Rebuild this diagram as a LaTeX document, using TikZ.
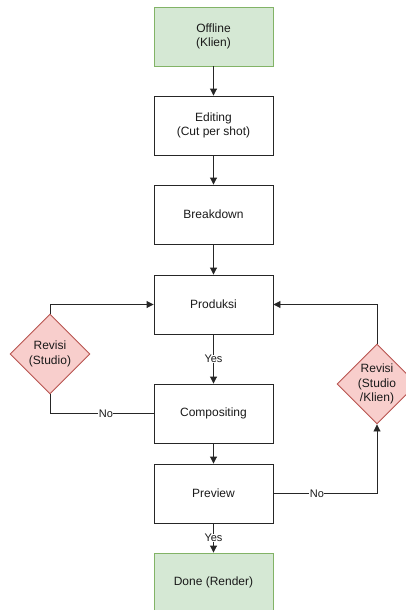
\documentclass[tikz,border=0pt]{standalone}
\usepackage{fontspec}
\setmainfont{Liberation Sans}
\usetikzlibrary{shapes.geometric,arrows.meta}
\definecolor{gfill}{HTML}{D5E8D4}
\definecolor{gline}{HTML}{82B366}
\definecolor{rfill}{HTML}{F8CECC}
\definecolor{rline}{HTML}{B85450}
\definecolor{txt}{HTML}{1A1A1A}
\tikzset{
  box/.style={rectangle, draw=black!85, line width=0.9pt, fill=white, minimum width=119pt, minimum height=59pt, inner sep=0pt, align=center, text=txt, font=\fontsize{12}{14.5}\selectfont},
  gbox/.style={box, draw=gline, fill=gfill},
  dia/.style={diamond, draw=rline, fill=rfill, line width=0.9pt, minimum width=80pt, minimum height=80pt, inner sep=0pt},
  dtext/.style={align=center, text=txt, font=\fontsize{12}{14.5}\selectfont},
  conn/.style={draw=black!85, line width=0.9pt, -{Triangle[length=7pt,width=7pt]}},
  lbl/.style={fill=white, inner sep=0.5pt, text=txt, font=\fontsize{11}{12}\selectfont}
}
\begin{document}
\begin{tikzpicture}[x=1pt, y=-1pt]
\useasboundingbox (0,0) rectangle (406,610);
\node[gbox] (off) at (213.5,36.5) {Offline\\(Klien)};
\node[box] (edit) at (213.5,125.5) {Editing\\(Cut per shot)};
\node[box] (brk) at (213.5,214.5) {Breakdown};
\node[box] (prod) at (213.5,304.5) {Produksi};
\node[box] (comp) at (213.5,413.5) {Compositing};
\node[box] (prev) at (213.5,493.5) {Preview};
\node[gbox] (done) at (213.5,582.5) {Done (Render)};
\node[dia] (r1) at (50,354) {};
\node[dtext] (r1t) at (r1) {Revisi\\(Studio)};
\node[dia] (r2) at (377,384) {};
\node[dtext] (r2t) at (r2) {Revisi\\(Studio\\/Klien)};
\draw[conn] (off) -- (edit);
\draw[conn] (edit) -- (brk);
\draw[conn] (brk) -- (prod);
\draw[conn] (prod) -- node[lbl] {Yes} (comp);
\draw[conn] (comp) -- (prev);
\draw[conn] (prev) -- node[lbl] {Yes} (done);
\draw[conn] (r1.north) |- (prod.west);
\draw[draw=black!85, line width=0.9pt] (r1.south) |- node[lbl, pos=0.77] {No} (comp.west);
\draw[conn] (r2.north) |- (prod.east);
\draw[conn] (prev.east) -| node[lbl, pos=0.21] {No} (r2.south);
\end{tikzpicture}
\end{document}
